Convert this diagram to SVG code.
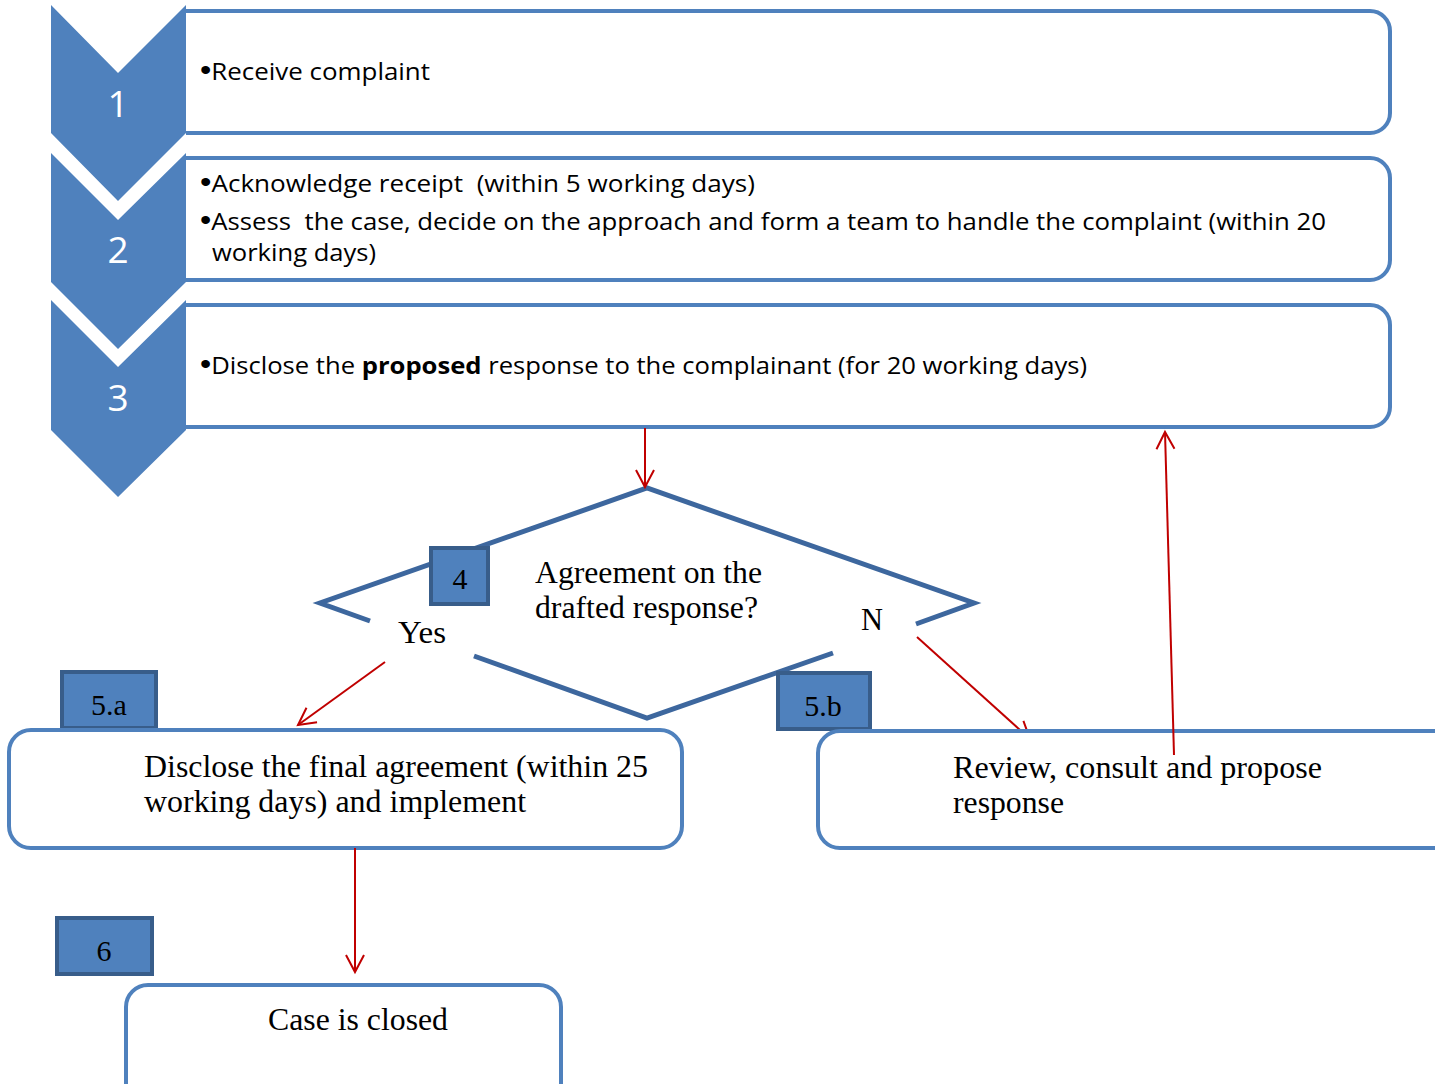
<svg xmlns="http://www.w3.org/2000/svg" width="1435" height="1084" viewBox="0 0 1435 1084">
<style>
.chev{fill:#4F81BD;stroke:none}
.num{font-family:"Open Sans","Liberation Sans",sans-serif;font-size:37px;fill:#FFFFFF;text-anchor:middle}
.box{fill:#FFFFFF;stroke:#4F81BD;stroke-width:4}
.boxo{fill:none;stroke:#4F81BD;stroke-width:4}
.t{font-family:"Open Sans","Liberation Sans",sans-serif;font-size:24px;fill:#000000;white-space:pre}
.b{font-family:"Liberation Sans",sans-serif;font-size:30px}
.s{font-family:"Liberation Serif","Times New Roman",serif;font-size:31px;fill:#000000}
.lab{fill:#4F81BD;stroke:#385D8A;stroke-width:4}
.labt{font-family:"Liberation Serif","Times New Roman",serif;font-size:30px;fill:#000000;text-anchor:middle}
.dia{fill:none;stroke:#3D679E;stroke-width:5;stroke-linejoin:miter}
.con{fill:none;stroke:#C00000;stroke-width:2}
</style>
<defs>
<marker id="ah" viewBox="-18 -10 20 20" refX="0" refY="0" markerWidth="20" markerHeight="20" orient="auto" markerUnits="userSpaceOnUse" overflow="visible">
<path d="M-17,-9 L0,0 L-17,9" fill="none" stroke="#C00000" stroke-width="2"/>
</marker>
<clipPath id="clipTop"><rect x="0" y="0" width="1435" height="729"/></clipPath>
</defs>
<rect width="1435" height="1084" fill="#FFFFFF"/>

<g id="step1">
<path class="boxo" d="M186,11 H1370 A20,20 0 0 1 1390,31 V113 A20,20 0 0 1 1370,133 H186"/>
<polygon class="chev" points="51,5 118,73 186,5 186,133 118,201 51,133"/>
<text class="num" x="118" y="117">1</text>
<text class="t" x="200" y="80" textLength="230" lengthAdjust="spacingAndGlyphs"><tspan class="b">•</tspan>Receive complaint</text>
</g>

<g id="step2">
<path class="boxo" d="M186,158 H1370 A20,20 0 0 1 1390,178 V260 A20,20 0 0 1 1370,280 H186"/>
<polygon class="chev" points="51,153 118,220 186,153 186,282 118,349 51,282"/>
<text class="num" x="118" y="263">2</text>
<text class="t" xml:space="preserve" x="200" y="192" textLength="555" lengthAdjust="spacingAndGlyphs"><tspan class="b">•</tspan>Acknowledge receipt  (within 5 working days)</text>
<text class="t" xml:space="preserve" x="200" y="230" textLength="1126" lengthAdjust="spacingAndGlyphs"><tspan class="b">•</tspan>Assess  the case, decide on the approach and form a team to handle the complaint (within 20</text>
<text class="t" x="212" y="261" textLength="164" lengthAdjust="spacingAndGlyphs">working days)</text>
</g>

<g id="step3">
<path class="boxo" d="M186,305 H1370 A20,20 0 0 1 1390,325 V407 A20,20 0 0 1 1370,427 H186"/>
<polygon class="chev" points="51,300 118,367 186,300 186,430 118,497 51,430"/>
<text class="num" x="118" y="411">3</text>
<text class="t" xml:space="preserve" x="200" y="374" textLength="887" lengthAdjust="spacingAndGlyphs"><tspan class="b">•</tspan>Disclose the <tspan font-weight="bold">proposed</tspan> response to the complainant (for 20 working days)</text>
</g>

<g id="decision4">
<path class="dia" d="M916,624 L974,603 L647,488 L320,603 L370,621"/>
<path class="dia" d="M474,656 L647,718 L833,653"/>
<rect class="lab" x="431" y="548" width="57" height="56"/>
<text class="labt" x="460" y="589">4</text>
<text class="s" x="535" y="583" textLength="227" lengthAdjust="spacingAndGlyphs">Agreement on the</text>
<text class="s" x="535" y="618" textLength="223" lengthAdjust="spacingAndGlyphs">drafted response?</text>
<text class="s" x="398" y="643" textLength="48" lengthAdjust="spacingAndGlyphs">Yes</text>
<text class="s" x="861" y="630" textLength="22" lengthAdjust="spacingAndGlyphs">N</text>
</g>

<g id="step5a">
<rect class="lab" x="62" y="672" width="94" height="56"/>
<text class="labt" x="109" y="715">5.a</text>
<rect class="box" x="9" y="730" width="673" height="118" rx="22" ry="22"/>
<text class="s" x="144" y="777" textLength="504" lengthAdjust="spacingAndGlyphs">Disclose the final agreement (within 25</text>
<text class="s" x="144" y="812" textLength="382" lengthAdjust="spacingAndGlyphs">working days) and implement</text>
</g>

<g id="step5b">
<rect class="lab" x="778" y="673" width="92" height="56"/>
<text class="labt" x="823" y="716">5.b</text>
<rect class="box" x="818" y="731" width="640" height="117" rx="22" ry="22"/>
<text class="s" x="953" y="778" textLength="369" lengthAdjust="spacingAndGlyphs">Review, consult and propose</text>
<text class="s" x="953" y="813" textLength="111" lengthAdjust="spacingAndGlyphs">response</text>
</g>

<g id="step6">
<rect class="lab" x="57" y="918" width="95" height="56"/>
<text class="labt" x="104" y="961">6</text>
<rect class="box" x="126" y="985" width="435" height="130" rx="22" ry="22"/>
<text class="s" x="268" y="1030" textLength="180" lengthAdjust="spacingAndGlyphs">Case is closed</text>
</g>

<g id="connectors">
<line class="con" x1="645" y1="428" x2="645" y2="487" marker-end="url(#ah)"/>
<line class="con" x1="385" y1="662" x2="298" y2="725" marker-end="url(#ah)"/>
<line class="con" x1="917" y1="637" x2="1030" y2="739" marker-end="url(#ah)" clip-path="url(#clipTop)"/>
<line class="con" x1="1174" y1="755" x2="1165" y2="432" marker-end="url(#ah)"/>
<line class="con" x1="355" y1="848" x2="355" y2="972" marker-end="url(#ah)"/>
</g>
</svg>
